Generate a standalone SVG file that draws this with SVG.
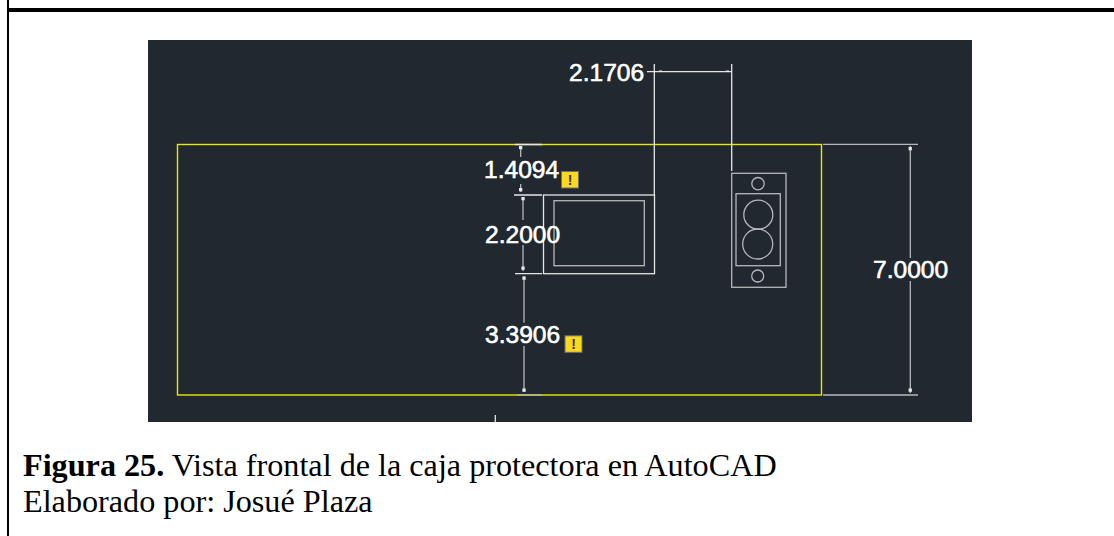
<svg xmlns="http://www.w3.org/2000/svg" width="1114" height="536" viewBox="0 0 1114 536">
<style>
.l{stroke:#e4e6e6;stroke-width:1.3;fill:none}
.g{stroke:#b4b8ba;stroke-width:1.3;fill:none}
.d{font-family:"Liberation Sans",Arial,sans-serif;font-size:24.6px;fill:#fff;stroke:#fff;stroke-width:.6}
.c{font-family:"Liberation Serif","Times New Roman",serif;font-size:32.2px;fill:#000}
.s{fill:#e8e8e8}
.w{fill:#fdd91e;stroke:#6b6f70;stroke-width:1}
.x{font-family:"Liberation Sans",Arial,sans-serif;font-size:14px;font-weight:bold;fill:#333}
</style>
<rect width="1114" height="536" fill="#fff"/>
<g id="frame"><rect x="7" y="0" width="2" height="536" fill="#000"/><rect x="7" y="8" width="1107" height="4" fill="#000"/></g>
<rect id="drawing-bg" x="148" y="40" width="824" height="382" fill="#212830"/>
<g id="outline"><rect x="177.500" y="144.500" width="644" height="250.500" fill="none" stroke="#e8e800" stroke-width="1.400"/></g>
<g id="display-cutout"><rect class="l" x="543.500" y="195" width="111" height="78.700"/><rect class="g" x="554" y="200.700" width="90.300" height="65"/></g>
<g id="socket"><rect class="g" x="731.700" y="173.300" width="54.300" height="114"/><rect class="g" x="736" y="193.700" width="44.300" height="72"/><circle class="g" cx="758" cy="183.700" r="6.200"/><circle class="g" cx="758.300" cy="214.700" r="14.500"/><circle class="g" cx="757.700" cy="244" r="15"/><circle class="g" cx="757.700" cy="276" r="6"/></g>
<g id="connectors">
<path class="l" d="M647 71.700H731.700M654.300 64V195M731.700 64V171"/>
<rect class="s" x="659" y="70.500" width="3" height="1.500"/><rect class="s" x="726" y="70.500" width="3" height="1.500"/>
<path class="l" d="M515 144.500H542M514 195H542M515 273.700H542"/>
<path class="g" d="M517 395H542"/>
<path class="g" d="M520.700 146V157M520.700 184V192M523 197V220M523 245V271M524 276V322.700M524 346V392"/>
<path class="g" d="M823 144.300H918M823 395H918M910.300 146V258M910.300 281V393"/>
<path class="l" d="M495.300 415V422"/>
<rect class="s" x="519" y="146" width="3.300" height="3.300"/><rect class="s" x="519" y="188" width="3.300" height="3.300"/><rect class="s" x="521.400" y="197" width="3.300" height="3.300"/><rect class="s" x="521.400" y="266.500" width="3.300" height="3.300"/><rect class="s" x="522.400" y="276.500" width="3.300" height="3.300"/><rect class="s" x="522.400" y="388.500" width="3.300" height="3.300"/><rect class="s" x="908.600" y="147" width="3.300" height="3.300"/><rect class="s" x="908.600" y="388.500" width="3.300" height="3.300"/>
</g>
<g id="dim-21706"><text class="d" x="569" y="80.500">2.1706</text></g>
<g id="dim-14094"><text class="d" x="484" y="178">1.4094</text></g>
<g id="dim-22000"><text class="d" x="485" y="243">2.2000</text></g>
<g id="dim-33906"><text class="d" x="485" y="342.500">3.3906</text></g>
<g id="dim-70000"><text class="d" x="873" y="278">7.0000</text></g>
<g id="warn-1"><rect class="w" x="561.500" y="171.500" width="17" height="16.500"/><text class="x" x="570" y="185" text-anchor="middle">!</text></g>
<g id="warn-2"><rect class="w" x="565" y="335.800" width="17" height="16.500"/><text class="x" x="573.500" y="349.300" text-anchor="middle">!</text></g>
<g id="caption"><text class="c" x="23" y="476"><tspan font-weight="bold">Figura 25.</tspan> Vista frontal de la caja protectora en AutoCAD</text><text class="c" x="23" y="512">Elaborado por: Josué Plaza</text></g>
</svg>
